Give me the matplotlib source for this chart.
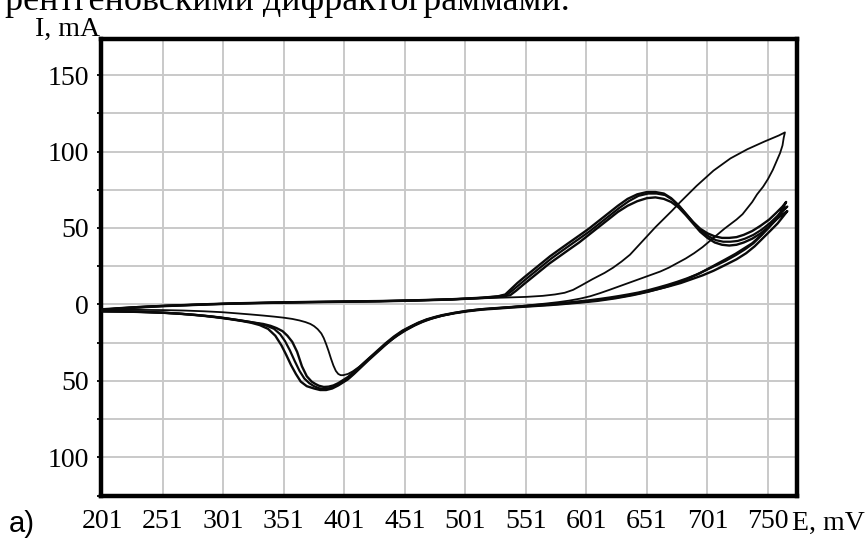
import matplotlib
matplotlib.use("Agg")
import matplotlib.pyplot as plt

# ---------------- data ----------------
x_ticks = [201, 251, 301, 351, 401, 451, 501, 551, 601, 651, 701, 751]
x_tick_labels = ["201", "251", "301", "351", "401", "451", "501", "551",
                 "601", "651", "701", "750"]
y_ticks = [-100, -50, 0, 50, 100, 150]
y_tick_labels = ["100", "50", "0", "50", "100", "150"]
y_minor = [-125, -75, -25, 25, 75, 125]

# cycle 1 (thin line) - anodic sweep
E1_an = [201, 215, 230, 250, 270, 290, 310, 340, 370, 400,
         430, 460, 490, 515, 535, 551, 565, 575, 583, 590,
         597, 606, 616, 623, 630, 637, 644, 651, 658, 665,
         672, 678, 685, 692, 699, 706, 713, 720, 727, 734,
         741, 748, 754, 760, 765]
I1_an = [-3, -2.3, -1.6, -0.9, -0.3, 0.2, 0.6, 1.1, 1.5, 1.8,
         2.1, 2.6, 3.3, 4.0, 4.5, 4.9, 5.6, 6.5, 7.6, 9.5,
         12.5, 16.5, 20.6, 24, 28, 32.5, 38.5, 44.5, 50.5, 56,
         61.5, 66.5, 72, 77.5, 82.5, 87.5, 91.5, 95.5, 98.5, 101.5,
         104, 106.5, 108.5, 110.5, 112.5]
# cycle 1 - cathodic sweep
E1_ca = [764, 763, 761, 758, 755, 751, 747, 742, 738, 734,
         730, 725, 720, 715, 709, 703, 697, 690, 683, 676,
         669, 662, 655, 648, 641, 634, 627, 620, 612, 604,
         596, 587, 578, 568, 558, 548, 537, 526, 515, 503,
         492, 482, 473, 466, 459, 452, 445, 438, 431, 424,
         418, 413, 408, 404, 400, 398, 396, 394, 392, 390,
         388, 386, 384, 382, 379, 376, 373, 369, 364, 358,
         351, 343, 334, 324, 313, 300, 285, 268, 250, 230,
         201]
I1_ca = [109, 104, 99, 93.5, 88, 82, 77, 72, 67, 63,
         59, 55.5, 52.5, 49.5, 45.5, 41.5, 37.5, 33.5, 30, 27,
         24, 21.5, 19.5, 17.5, 15.5, 13.5, 11.5, 9.5, 7.3, 5.3,
         3.8, 2.5, 1.5, 0.6, -0.2, -1.0, -1.8, -2.5, -3.3, -4.4,
         -5.8, -7.5, -9.5, -11.5, -14, -17, -20.5, -24.5, -29, -33.5,
         -37.5, -41, -43.8, -45.5, -46.3, -46.3, -45.5, -43.5, -40, -35.5,
         -30.5, -26, -22, -19, -16.2, -14.2, -12.8, -11.6, -10.5, -9.5,
         -8.7, -8, -7.3, -6.6, -5.9, -5.1, -4.5, -4.0, -3.7, -3.6,
         -3.6]

# cycle 2 - anodic
E2_an = [201, 215, 230, 250, 270, 290, 310, 340, 370, 400,
         430, 460, 490, 515, 528, 534, 538, 544, 550, 557,
         564, 571, 578, 586, 595, 603, 611, 619, 627, 635,
         643, 651, 658, 665, 671, 677, 683, 689, 695, 701,
         707, 713, 719, 725, 731, 738, 745, 752, 758, 763,
         766]
I2_an = [-3.5, -2.6, -1.8, -1.0, -0.4, 0.2, 0.7, 1.2, 1.6, 1.9,
         2.2, 2.7, 3.4, 4.4, 5.3, 6.5, 9.5, 14, 18, 22.5,
         27, 31.5, 35.5, 40, 45, 49.5, 54.5, 59.5, 64.5, 69,
         72, 73.5, 73.5, 72.5, 69.5, 65, 59.5, 54, 49.5, 46.5,
         44.5, 43.5, 43.5, 44, 45.5, 48, 51.5, 55.5, 60, 64,
         67]
# cycle 2 - cathodic
E2_ca = [762, 757, 751, 745, 738, 731, 724, 716, 709, 702,
         695, 688, 681, 674, 667, 660, 653, 646, 639, 632,
         625, 618, 610, 600, 590, 580, 570, 560, 550, 540,
         528, 515, 503, 492, 482, 476, 469, 462, 456, 449,
         442, 435, 428, 421, 415, 409, 404, 400, 396, 391,
         386, 381, 376, 370, 365, 361, 357, 353, 349, 344,
         338, 331, 324, 316, 307, 297, 286, 274, 261, 247,
         232, 216, 201]
I2_ca = [61, 55, 50, 45, 40, 36.5, 33, 29.5, 26.5, 23.5,
         20.5, 18, 15.5, 13.5, 11.5, 10, 8.5, 7.2, 6, 5,
         4, 3.2, 2.3, 1.5, 0.8, 0.1, -0.5, -1.0, -1.5, -2.0,
         -2.7, -3.4, -4.5, -5.8, -7.3, -8.5, -10.2, -12.4, -14.8, -17.8,
         -21.8, -26.5, -31.5, -36.5, -41, -45.5, -49, -51, -53, -55,
         -56, -56, -55, -53.5, -50.5, -45.5, -39.7, -33, -26.7, -20.5,
         -16, -13.5, -12, -10.8, -9.7, -8.6, -7.6, -6.7, -5.9, -5.3,
         -4.9, -4.6, -4.5]

# cycle 3 - anodic
E3_an = [201, 215, 230, 250, 270, 290, 310, 340, 370, 400,
         430, 460, 490, 515, 528, 535, 539, 545, 551, 558,
         565, 572, 579, 587, 596, 604, 612, 620, 628, 636,
         644, 652, 659, 666, 672, 678, 684, 690, 696, 702,
         708, 714, 720, 726, 732, 739, 746, 753, 759, 764,
         767]
I3_an = [-3.6, -2.7, -1.9, -1.1, -0.5, 0.1, 0.6, 1.1, 1.5, 1.8,
         2.1, 2.6, 3.3, 4.3, 5.2, 6.2, 8.5, 12.5, 16.5, 21,
         25.5, 30, 34, 38.5, 43.5, 48, 53, 58, 63, 67.5,
         71, 72.5, 72.5, 71.5, 68.5, 64, 58.5, 53, 48, 44.5,
         42, 41, 41, 41.5, 43, 45.5, 49, 53.5, 58, 61.5,
         64]
# cycle 3 - cathodic
E3_ca = [763, 758, 752, 746, 739, 732, 725, 716, 708, 700,
         692, 684, 676, 668, 660, 652, 644, 636, 628, 620,
         612, 604, 595, 585, 575, 565, 555, 545, 535, 524,
         513, 502, 492, 482, 476, 469, 462, 456, 449, 442,
         435, 428, 421, 415, 409, 404, 400, 396, 392, 388,
         384, 380, 376, 372, 368, 364, 360, 356, 352, 348,
         343, 337, 330, 322, 313, 303, 292, 280, 267, 253,
         238, 222, 201]
I3_ca = [62, 56, 50.5, 45.5, 40, 36, 32.5, 28.5, 25.5, 22.5,
         19.5, 17, 14.8, 12.8, 11, 9.3, 7.8, 6.6, 5.5, 4.5,
         3.6, 2.8, 2.0, 1.2, 0.5, -0.1, -0.7, -1.3, -1.9, -2.5,
         -3.2, -4.2, -5.6, -7.2, -8.4, -10, -12.2, -14.6, -17.5, -21.5,
         -26, -31, -36, -40.5, -45, -48.5, -50.5, -52.5, -54, -55,
         -55.3, -54.8, -53.5, -51.5, -48.5, -43.5, -37, -30, -24, -19.5,
         -16, -14, -12.5, -11.3, -10.2, -9.1, -8, -7, -6.2, -5.5,
         -5, -4.7, -4.5]

# cycle 4 - anodic
E4_an = [201, 215, 230, 250, 270, 290, 310, 340, 370, 400,
         430, 460, 490, 515, 530, 538, 543, 549, 556, 563,
         570, 578, 586, 595, 603, 611, 619, 627, 635, 643,
         651, 658, 665, 671, 677, 683, 689, 695, 701, 707,
         713, 719, 725, 731, 738, 745, 752, 758, 763, 767]
I4_an = [-3.8, -2.9, -2.1, -1.2, -0.6, 0.0, 0.5, 1.0, 1.4, 1.7,
         2.0, 2.5, 3.2, 4.2, 5.0, 6.0, 9, 13, 17.5, 22,
         26.5, 31, 35.5, 40.5, 45.5, 50.5, 55.5, 60.5, 64.5, 67.5,
         69.5, 70, 69, 67, 63.5, 58.5, 53, 47.5, 43.5, 40.5,
         39, 38.5, 39, 40.5, 43, 46.5, 51, 55.5, 59, 61]
# cycle 4 - cathodic
E4_ca = [764, 759, 754, 747, 740, 733, 725, 715, 706, 697,
         688, 679, 670, 661, 652, 643, 634, 625, 616, 607,
         598, 588, 578, 566, 553, 540, 527, 514, 503, 492,
         482, 476, 469, 462, 456, 449, 442, 435, 428, 421,
         415, 409, 404, 400, 396, 392, 388, 384, 380, 377,
         374, 370, 366, 362, 358, 354, 350, 345, 340, 334,
         327, 319, 310, 300, 289, 277, 264, 250, 235, 218,
         201]
I4_ca = [58, 53, 49, 43.5, 38, 33.5, 29.5, 25.5, 22, 19,
         16.5, 14, 12, 10.2, 8.5, 7, 5.6, 4.4, 3.4, 2.5,
         1.7, 1.0, 0.3, -0.4, -1.1, -1.8, -2.5, -3.2, -4.2, -5.5,
         -7.0, -8.2, -9.8, -12, -14.3, -17.2, -21, -25.5, -30.5, -35.5,
         -40, -44, -47.5, -49.5, -51.5, -53, -53.8, -54, -53.2, -52,
         -50.5, -47, -40.5, -31, -24.5, -20.5, -17.5, -15.5, -14, -12.8,
         -12, -11, -9.9, -8.7, -7.7, -6.8, -6.0, -5.4, -5.0, -4.7,
         -4.5]

top_text = "рентгеновскими дифрактограммами."
y_label = "I, mA"
x_label = "E, mV"
panel_label = "a)"

# ---------------- figure ----------------
SERIF = ["Liberation Serif", "DejaVu Serif"]
fig = plt.figure(figsize=(8.67, 5.4), dpi=100)
fig.patch.set_facecolor("white")
ax = fig.add_axes([0.1165, 0.0824, 0.9193 - 0.1165, 0.9278 - 0.0824])

grid_color = "#c9c9c9"
ax.set_axisbelow(True)

traces = [
    (E1_an + E1_ca, I1_an + I1_ca, 1.3),
    (E2_an + E2_ca, I2_an + I2_ca, 1.7),
    (E3_an + E3_ca, I3_an + I3_ca, 1.6),
    (E4_an + E4_ca, I4_an + I4_ca, 1.7),
]
for E, I, lw in traces:
    ax.plot(E, I, color="#0a0a0a", lw=lw, solid_joinstyle="round",
            solid_capstyle="round", zorder=3)

ax.set_xlim(200, 775)
ax.set_ylim(-123.6, 173.6)

ax.set_xticks(x_ticks)
ax.set_xticklabels(x_tick_labels)
ax.set_yticks(y_ticks)
ax.set_yticklabels(y_tick_labels)
ax.set_yticks(y_minor, minor=True)

ax.xaxis.grid(True, which="major", color=grid_color, lw=1.4)
ax.yaxis.grid(True, which="both", color=grid_color, lw=1.4)

ax.tick_params(axis="x", which="both", length=0, pad=9.5, labelsize=20)
ax.tick_params(axis="y", which="both", direction="out", length=3,
               width=1.3, pad=5.5, labelsize=20, color="black")
for lab in ax.get_xticklabels() + ax.get_yticklabels():
    lab.set_fontfamily(SERIF)

for sp in ax.spines.values():
    sp.set_linewidth(3.2)
    sp.set_color("black")

fig.text(100 / 867, 1 - 36 / 540, y_label, ha="right", va="baseline",
         fontsize=20, family=SERIF)
fig.text(792 / 867, 1 - 530 / 540, x_label, ha="left", va="baseline",
         fontsize=20, family=SERIF)
fig.text(9 / 867, 1 - 532 / 540, panel_label, ha="left", va="baseline",
         fontsize=21, family=["Liberation Sans", "DejaVu Sans"])
fig.text(5 / 867, 1 - 10 / 540, top_text, ha="left", va="baseline",
         fontsize=26, family=SERIF)

fig.savefig("out.png", dpi=100, facecolor="white")
